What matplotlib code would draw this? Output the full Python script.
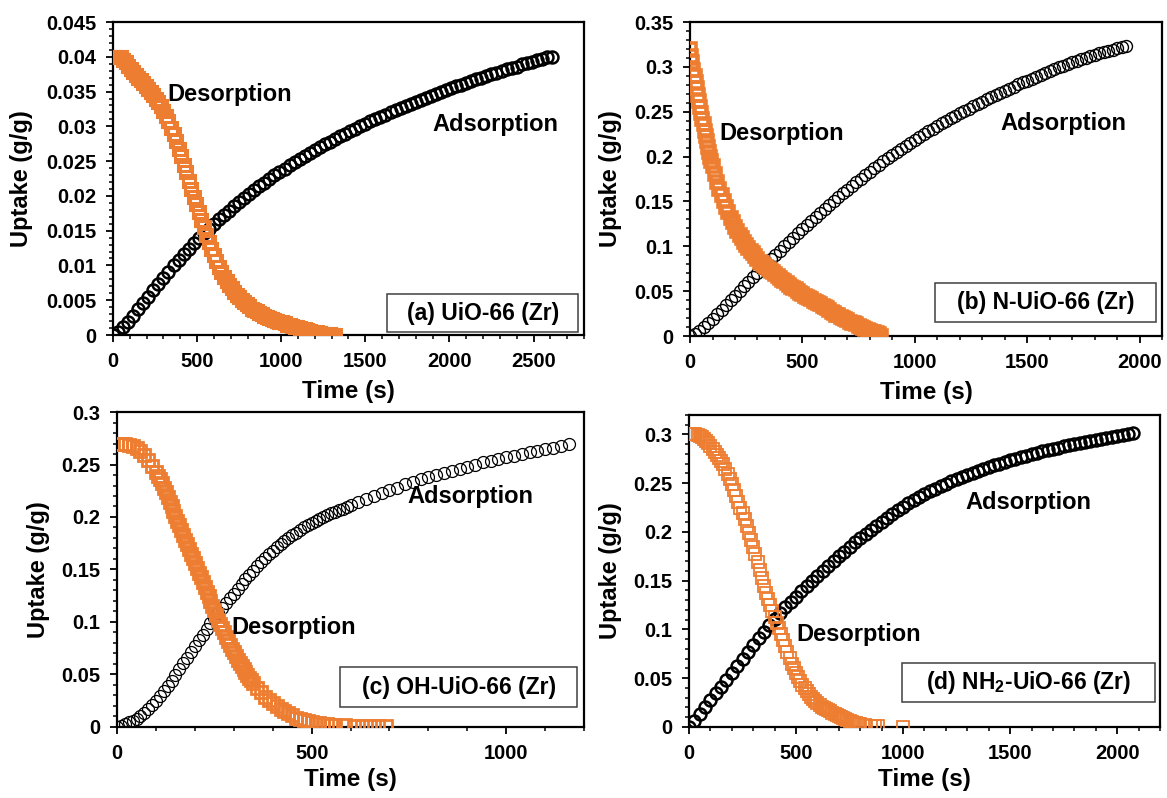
import matplotlib
matplotlib.use('Agg')
import matplotlib.pyplot as plt
import numpy as np
from matplotlib.ticker import MultipleLocator, FuncFormatter
from matplotlib.patches import Rectangle

plt.rcParams['font.family'] = 'Liberation Sans'
plt.rcParams['font.weight'] = 'bold'
plt.rcParams['mathtext.fontset'] = 'custom'
plt.rcParams['mathtext.rm'] = 'Liberation Sans:bold'
plt.rcParams['mathtext.bf'] = 'Liberation Sans:bold'

ORANGE = '#ED7D31'

# ---- (a) UiO-66 (Zr): logged every 30 s (ads) / 15 s (des)
ads_a = [0.0000, 0.0004, 0.0011, 0.0019, 0.0028, 0.0037, 0.0046, 0.0055, 0.0064, 0.0073,
         0.0082, 0.0091, 0.0100, 0.0108, 0.0116, 0.0124, 0.0132, 0.0139, 0.0146, 0.0153,
         0.0160, 0.0167, 0.0173, 0.0179, 0.0185, 0.0191, 0.0197, 0.0203, 0.0209, 0.0214,
         0.0219, 0.0225, 0.0230, 0.0235, 0.0239, 0.0244, 0.0249, 0.0253, 0.0258, 0.0262,
         0.0266, 0.0270, 0.0274, 0.0278, 0.0282, 0.0286, 0.0289, 0.0293, 0.0296, 0.0300,
         0.0303, 0.0307, 0.0310, 0.0314, 0.0317, 0.0320, 0.0323, 0.0326, 0.0329, 0.0332,
         0.0335, 0.0338, 0.0341, 0.0344, 0.0347, 0.0350, 0.0352, 0.0355, 0.0358, 0.0360,
         0.0363, 0.0365, 0.0368, 0.0370, 0.0373, 0.0375, 0.0377, 0.0380, 0.0382, 0.0384,
         0.0386, 0.0389, 0.0391, 0.0393, 0.0395, 0.0397, 0.0399, 0.0400]
des_a = [0.0400, 0.0400, 0.0400, 0.0399, 0.0396, 0.0392, 0.0387, 0.0382, 0.0378, 0.0374,
         0.0370, 0.0366, 0.0362, 0.0358, 0.0354, 0.0350, 0.0345, 0.0340, 0.0335, 0.0329,
         0.0322, 0.0315, 0.0307, 0.0298, 0.0289, 0.0279, 0.0268, 0.0257, 0.0245, 0.0234,
         0.0222, 0.0210, 0.0199, 0.0188, 0.0177, 0.0166, 0.0155, 0.0144, 0.0134, 0.0124,
         0.0115, 0.0106, 0.0098, 0.0091, 0.0084, 0.0078, 0.0072, 0.0067, 0.0062, 0.0058,
         0.0054, 0.0050, 0.0047, 0.0044, 0.0041, 0.0038, 0.0036, 0.0034, 0.0032, 0.0030,
         0.0028, 0.0026, 0.0025, 0.0023, 0.0022, 0.0020, 0.0019, 0.0018, 0.0017, 0.0015,
         0.0014, 0.0013, 0.0012, 0.0011, 0.0010, 0.0009, 0.0008, 0.0007, 0.0006, 0.0005,
         0.0005, 0.0004, 0.0003, 0.0002, 0.0002, 0.0001, 0.0001, 0.0000, 0.0000]
t_ads_a = np.arange(len(ads_a)) * 30
t_des_a = np.arange(len(des_a)) * 15

# ---- (b) N-UiO-66 (Zr)
ads_b = [0.0000, 0.0021, 0.0053, 0.0096, 0.0144, 0.0194, 0.0244, 0.0295, 0.0347, 0.0399,
         0.0451, 0.0502, 0.0553, 0.0604, 0.0654, 0.0705, 0.0755, 0.0805, 0.0855, 0.0904,
         0.0953, 0.1002, 0.1050, 0.1098, 0.1145, 0.1192, 0.1238, 0.1284, 0.1329, 0.1374,
         0.1418, 0.1462, 0.1505, 0.1548, 0.1590, 0.1632, 0.1673, 0.1714, 0.1754, 0.1794,
         0.1833, 0.1872, 0.1910, 0.1947, 0.1984, 0.2020, 0.2055, 0.2089, 0.2123, 0.2156,
         0.2188, 0.2220, 0.2251, 0.2282, 0.2312, 0.2342, 0.2371, 0.2400, 0.2428, 0.2456,
         0.2483, 0.2510, 0.2536, 0.2562, 0.2588, 0.2613, 0.2638, 0.2663, 0.2687, 0.2711,
         0.2735, 0.2758, 0.2781, 0.2804, 0.2826, 0.2848, 0.2870, 0.2892, 0.2913, 0.2934,
         0.2955, 0.2975, 0.2995, 0.3014, 0.3033, 0.3051, 0.3069, 0.3086, 0.3103, 0.3119,
         0.3135, 0.3150, 0.3165, 0.3179, 0.3192, 0.3205, 0.3217, 0.3228]
des_b = [0.320, 0.312, 0.305, 0.297, 0.290, 0.283, 0.276, 0.269, 0.262, 0.255,
         0.249, 0.242, 0.236, 0.229, 0.223, 0.217, 0.211, 0.205, 0.200, 0.195,
         0.190, 0.181, 0.172, 0.164, 0.157, 0.150, 0.144, 0.138, 0.132, 0.127,
         0.122, 0.117, 0.113, 0.109, 0.105, 0.101, 0.098, 0.095, 0.092, 0.089,
         0.086, 0.083, 0.081, 0.079, 0.077, 0.075, 0.073, 0.071, 0.069, 0.067,
         0.065, 0.063, 0.061, 0.059, 0.057, 0.055, 0.054, 0.052, 0.050, 0.048,
         0.047, 0.045, 0.044, 0.042, 0.041, 0.039, 0.038, 0.037, 0.036, 0.034,
         0.032, 0.031, 0.029, 0.027, 0.026, 0.024, 0.023, 0.021, 0.020, 0.019,
         0.018, 0.016, 0.015, 0.014, 0.013, 0.011, 0.010, 0.009, 0.008, 0.007,
         0.006, 0.005, 0.004, 0.003, 0.002, 0.000]
t_ads_b = np.arange(len(ads_b)) * 20
t_des_b = np.r_[np.arange(0, 100, 5), np.arange(100, 851, 10)]

# ---- (c) OH-UiO-66 (Zr)
ads_c = [0.000, 0.001, 0.003, 0.0045, 0.006, 0.008, 0.010, 0.013, 0.017, 0.021,
         0.025, 0.0295, 0.034, 0.039, 0.044, 0.0495, 0.055, 0.0605, 0.066, 0.0715,
         0.077, 0.0825, 0.088, 0.0935, 0.099, 0.104, 0.109, 0.1135, 0.118, 0.1225,
         0.127, 0.1315, 0.136, 0.1405, 0.145, 0.149, 0.153, 0.157, 0.161, 0.1645,
         0.168, 0.171, 0.174, 0.177, 0.180, 0.1825, 0.185, 0.1875, 0.190, 0.192,
         0.194, 0.196, 0.198, 0.200, 0.202, 0.2035, 0.205, 0.2065, 0.208, 0.2095,
         0.211, 0.214, 0.217, 0.220, 0.223, 0.226, 0.228, 0.231, 0.233, 0.236,
         0.238, 0.240, 0.242, 0.244, 0.246, 0.248, 0.250, 0.252, 0.253, 0.255,
         0.257, 0.258, 0.260, 0.262, 0.263, 0.265, 0.266, 0.268, 0.270]
des_c = [0.270, 0.270, 0.270, 0.269, 0.268, 0.266, 0.263, 0.259, 0.254, 0.249,
         0.243, 0.2395, 0.236, 0.232, 0.228, 0.2235, 0.219, 0.2145, 0.210, 0.2055,
         0.201, 0.1965, 0.192, 0.1875, 0.183, 0.1785, 0.174, 0.1695, 0.165, 0.1605,
         0.156, 0.1515, 0.147, 0.1425, 0.138, 0.1335, 0.129, 0.1245, 0.120, 0.1155,
         0.111, 0.1065, 0.102, 0.098, 0.094, 0.090, 0.086, 0.082, 0.078, 0.0745,
         0.071, 0.0675, 0.064, 0.061, 0.058, 0.055, 0.052, 0.0495, 0.047, 0.0445,
         0.042, 0.037, 0.033, 0.029, 0.026, 0.023, 0.020, 0.017, 0.015, 0.013,
         0.011, 0.009, 0.008, 0.007, 0.006, 0.005, 0.004, 0.0035, 0.003, 0.0025,
         0.002, 0.002,
         0.0015, 0.001, 0.001, 0.001, 0.0005, 0.0005]
t_ads_c = np.r_[np.arange(0, 600, 10), np.arange(600, 1161, 20)]
t_des_c = np.r_[np.arange(0, 100, 10), np.arange(100, 350, 5), np.arange(350, 561, 10),
                [585, 610, 630, 650, 670, 690]]

# ---- (d) NH2-UiO-66 (Zr)
ads_d = [0.0000, 0.0065, 0.0135, 0.0205, 0.0275, 0.0345, 0.0415, 0.0485, 0.0555, 0.0627,
         0.0700, 0.0772, 0.0842, 0.0911, 0.0978, 0.1044, 0.1107, 0.1168, 0.1226, 0.1283,
         0.1337, 0.1391, 0.1444, 0.1497, 0.1549, 0.1601, 0.1652, 0.1702, 0.1751, 0.1799,
         0.1846, 0.1892, 0.1937, 0.1981, 0.2024, 0.2066, 0.2107, 0.2147, 0.2186, 0.2224,
         0.2261, 0.2296, 0.2329, 0.2360, 0.2389, 0.2417, 0.2444, 0.2470, 0.2495, 0.2519,
         0.2542, 0.2564, 0.2585, 0.2606, 0.2626, 0.2645, 0.2664, 0.2683, 0.2701, 0.2718,
         0.2735, 0.2751, 0.2767, 0.2783, 0.2798, 0.2812, 0.2826, 0.2840, 0.2853, 0.2866,
         0.2879, 0.2891, 0.2903, 0.2915, 0.2926, 0.2937, 0.2947, 0.2957, 0.2967, 0.2977,
         0.2986, 0.2995, 0.3004, 0.3013]
des_d = [0.300, 0.300, 0.300, 0.300, 0.299, 0.298, 0.297, 0.295, 0.293, 0.291,
         0.288, 0.285, 0.282, 0.279, 0.276, 0.273, 0.270, 0.265, 0.259, 0.254,
         0.249, 0.243, 0.237, 0.231, 0.225, 0.219, 0.213, 0.206, 0.199, 0.192,
         0.185, 0.177, 0.169, 0.161, 0.153, 0.145, 0.137, 0.131, 0.125, 0.119,
         0.113, 0.107, 0.101, 0.095, 0.089, 0.083, 0.077, 0.071, 0.065, 0.060,
         0.055, 0.051, 0.047, 0.043, 0.040, 0.037, 0.034, 0.031, 0.029, 0.027,
         0.025, 0.023, 0.021, 0.019, 0.018, 0.017, 0.016, 0.014, 0.013, 0.012,
         0.011, 0.010, 0.009, 0.008, 0.007, 0.006, 0.005, 0.004, 0.004, 0.003,
         0.003,
         0.002, 0.001, 0.001, 0.001, 0.000]
t_ads_d = np.arange(len(ads_d)) * 25
t_des_d = np.r_[np.arange(0, 801, 10), [820, 850, 870, 885, 1000]]

names = ['(a) UiO-66 (Zr)', '(b) N-UiO-66 (Zr)', '(c) OH-UiO-66 (Zr)',
         r'(d) NH$_\mathbf{2}$-UiO-66 (Zr)']

panels = [
    dict(rect=[0.0968, 0.5802, 0.4036, 0.3922], ads=(t_ads_a, ads_a), des=(t_des_a, des_a),
         xmax=2800, ymax=0.045, ymaj=0.005, ymin=0.001, ylab=-0.170, amew=1.8, dmew=2.2,
         box=(0.582, 0.0096, 0.406, 0.121), desxy=(0.248, 0.770), adsxy=(0.813, 0.671)),
    dict(rect=[0.5913, 0.5789, 0.4045, 0.3935], ads=(t_ads_b, ads_b), des=(t_des_b, des_b),
         xmax=2100, ymax=0.35, ymaj=0.05, ymin=0.01, ylab=-0.144, amew=1.0, dmew=2.6,
         box=(0.519, 0.045, 0.468, 0.124), desxy=(0.195, 0.646), adsxy=(0.790, 0.678)),
    dict(rect=[0.1003, 0.0890, 0.4002, 0.3947], ads=(t_ads_c, ads_c), des=(t_des_c, des_c),
         xmax=1200, ymax=0.30, ymaj=0.05, ymin=0.01, ylab=-0.143, amew=0.9, dmew=2.0,
         box=(0.478, 0.063, 0.507, 0.127), desxy=(0.378, 0.317), adsxy=(0.756, 0.733)),
    dict(rect=[0.5904, 0.0890, 0.4036, 0.3910], ads=(t_ads_d, ads_d), des=(t_des_d, des_d),
         xmax=2200, ymax=0.32, ymaj=0.05, ymin=0.01, ylab=-0.142, amew=1.8, dmew=1.3,
         box=(0.452, 0.080, 0.537, 0.125), desxy=(0.361, 0.295), adsxy=(0.720, 0.718)),
]

fig = plt.figure(figsize=(11.67, 7.98), dpi=100)

for i, p in enumerate(panels):
    ax = fig.add_axes(p['rect'])
    ax.plot(*p['ads'], 'o', ms=8.6, mfc='none', mec='black', mew=p['amew'], zorder=3)
    ax.plot(*p['des'], 's', ms=8.0, mfc='none', mec=ORANGE, mew=p['dmew'], zorder=4)

    ax.xaxis.set_major_locator(MultipleLocator(500))
    ax.xaxis.set_minor_locator(MultipleLocator(100))
    ax.yaxis.set_major_locator(MultipleLocator(p['ymaj']))
    ax.yaxis.set_minor_locator(MultipleLocator(p['ymin']))
    fmt = FuncFormatter(lambda v, pos: '%g' % round(v, 4))
    ax.xaxis.set_major_formatter(fmt)
    ax.yaxis.set_major_formatter(fmt)
    ax.set_xlim(0, p['xmax'])
    ax.set_ylim(0, p['ymax'])

    ax.tick_params(which='major', direction='out', length=5, width=1.3, labelsize=14.5, pad=7)
    ax.tick_params(which='minor', direction='out', length=3, width=1.1)
    for s in ax.spines.values():
        s.set_linewidth(1.6)

    ax.set_xlabel('Time (s)', fontsize=17.5, fontweight='bold', va='top')
    ax.set_ylabel('Uptake (g/g)', fontsize=17, fontweight='bold')
    ax.xaxis.set_label_coords(0.5, -0.144 if i < 2 else -0.130)
    ax.yaxis.set_label_coords(p['ylab'], 0.5)

    bx, by, bw, bh = p['box']
    ax.add_patch(Rectangle((bx, by), bw, bh, transform=ax.transAxes, fc='white',
                           ec='#404040', lw=1.1, zorder=6, clip_on=False))
    ax.text(bx + bw / 2, by + bh / 2, names[i], transform=ax.transAxes, ha='center',
            va='center', fontsize=16.5, fontweight='bold', zorder=7)
    ax.text(*p['desxy'], 'Desorption', transform=ax.transAxes, ha='center', va='center',
            fontsize=17, fontweight='bold', zorder=7)
    ax.text(*p['adsxy'], 'Adsorption', transform=ax.transAxes, ha='center', va='center',
            fontsize=17, fontweight='bold', zorder=7)

fig.savefig('out.png', dpi=100)
